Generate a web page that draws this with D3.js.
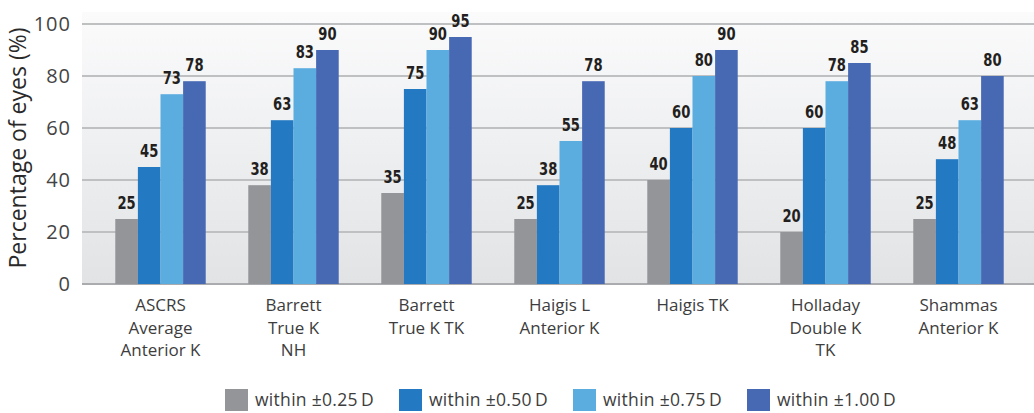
<!DOCTYPE html>
<html>
<head>
<meta charset="utf-8">
<script src="https://cdn.jsdelivr.net/npm/d3@7"></script>
<style>
  body { margin: 0; background: #fff; }
  svg { display: block; }
</style>
</head>
<body>
<svg id="chart"></svg>
<script>
var categories = [
  ["ASCRS", "Average", "Anterior K"],
  ["Barrett", "True K", "NH"],
  ["Barrett", "True K TK"],
  ["Haigis L", "Anterior K"],
  ["Haigis TK"],
  ["Holladay", "Double K", "TK"],
  ["Shammas", "Anterior K"]
];
var seriesNames = ["within \u00b10.25\u2009D", "within \u00b10.50\u2009D", "within \u00b10.75\u2009D", "within \u00b11.00\u2009D"];
var seriesColors = ["#949599", "#2479c3", "#5badE0", "#4769b3"];
var within025 = [25, 38, 35, 25, 40, 20, 25];
var within050 = [45, 63, 75, 38, 60, 60, 48];
var within075 = [73, 83, 90, 55, 80, 78, 63];
var within100 = [78, 90, 95, 78, 90, 85, 80];
var yTicks = [0, 20, 40, 60, 80, 100];

var width = 1034, height = 413;
var svg = d3.select("#chart").attr("width", width).attr("height", height);

var series = [within025, within050, within075, within100];
var labelFont = "'Open Sans', 'Noto Sans', sans-serif";

var x0 = d3.scaleBand()
  .domain(d3.range(categories.length))
  .range([94, 1025])
  .paddingInner(0.32)
  .paddingOuter(0.16);

var x1 = d3.scaleBand()
  .domain(d3.range(series.length))
  .range([0, x0.bandwidth()]);

var y = d3.scaleLinear().domain([0, 100]).range([284, 24]);

// background gradient
var grad = svg.append("defs").append("linearGradient")
  .attr("id", "bg").attr("x1", 0).attr("y1", 0).attr("x2", 0).attr("y2", 1);
grad.append("stop").attr("offset", "0%").attr("stop-color", "#fbfbfc");
grad.append("stop").attr("offset", "100%").attr("stop-color", "#e1e3e5");

svg.append("rect")
  .attr("x", 82).attr("y", 12)
  .attr("width", width - 82).attr("height", y(0) - 12)
  .attr("fill", "url(#bg)");

// gridlines
svg.append("g")
  .selectAll("line")
  .data(yTicks)
  .enter().append("line")
  .attr("x1", 82).attr("x2", width)
  .attr("y1", function(d) { return y(d); })
  .attr("y2", function(d) { return y(d); })
  .attr("stroke", function(d) { return d === 0 ? "#a9abae" : "#bfc0c2"; })
  .attr("stroke-width", 2);

// y tick labels
svg.append("g")
  .selectAll("text")
  .data(yTicks)
  .enter().append("text")
  .attr("x", 71)
  .attr("y", function(d) { return y(d) + 7; })
  .attr("text-anchor", "end")
  .style("font-family", labelFont)
  .style("font-size", "20px")
  .style("letter-spacing", "1px")
  .style("fill", "#444")
  .text(function(d) { return d; });

// y title
svg.append("text")
  .attr("transform", "translate(26,148) rotate(-90)")
  .attr("text-anchor", "middle")
  .style("font-family", labelFont)
  .style("font-size", "23px")
  .style("fill", "#2a2a2a")
  .text("Percentage of eyes (%)");

// bars
var groups = svg.append("g")
  .selectAll("g")
  .data(categories)
  .enter().append("g")
  .attr("transform", function(d, i) { return "translate(" + x0(i) + ",0)"; });

groups.selectAll("rect")
  .data(function(d, i) { return series.map(function(s, j) { return { s: j, v: s[i] }; }); })
  .enter().append("rect")
  .attr("x", function(d) { return x1(d.s); })
  .attr("width", x1.bandwidth())
  .attr("y", function(d) { return y(d.v); })
  .attr("height", function(d) { return y(0) - y(d.v); })
  .attr("fill", function(d) { return seriesColors[d.s]; });

// value labels, squeezed a bit to look condensed
groups.selectAll("text.val")
  .data(function(d, i) { return series.map(function(s, j) { return { s: j, v: s[i] }; }); })
  .enter().append("text")
  .attr("class", "val")
  .attr("transform", function(d) {
    return "translate(" + (x1(d.s) + x1.bandwidth() / 2) + "," + (y(d.v) - 10) + ") scale(0.86,1)";
  })
  .attr("text-anchor", "middle")
  .style("font-family", "'Liberation Sans Narrow', 'DejaVu Sans Condensed', sans-serif")
  .style("font-weight", "bold")
  .style("font-size", "17px")
  .style("fill", "#231f20")
  .text(function(d) { return d.v; });

// category labels
groups.append("text")
  .attr("text-anchor", "middle")
  .style("font-family", labelFont)
  .style("font-size", "17px")
  .style("fill", "#3d3d3d")
  .selectAll("tspan")
  .data(function(d) { return d; })
  .enter().append("tspan")
  .attr("x", x0.bandwidth() / 2)
  .attr("y", function(d, i) { return 311 + i * 22.5; })
  .text(function(d) { return d; });

// legend
var legend = svg.append("g")
  .selectAll("g")
  .data(seriesNames)
  .enter().append("g")
  .attr("transform", function(d, i) { return "translate(" + (225 + i * 174) + ",389)"; });

legend.append("rect")
  .attr("width", 23).attr("height", 22)
  .attr("fill", function(d, i) { return seriesColors[i]; });

legend.append("text")
  .attr("x", 30).attr("y", 17)
  .style("font-family", labelFont)
  .style("font-size", "17.5px")
  .style("letter-spacing", "0.3px")
  .style("fill", "#3d3d3d")
  .text(function(d) { return d; });
</script>
</body>
</html>
